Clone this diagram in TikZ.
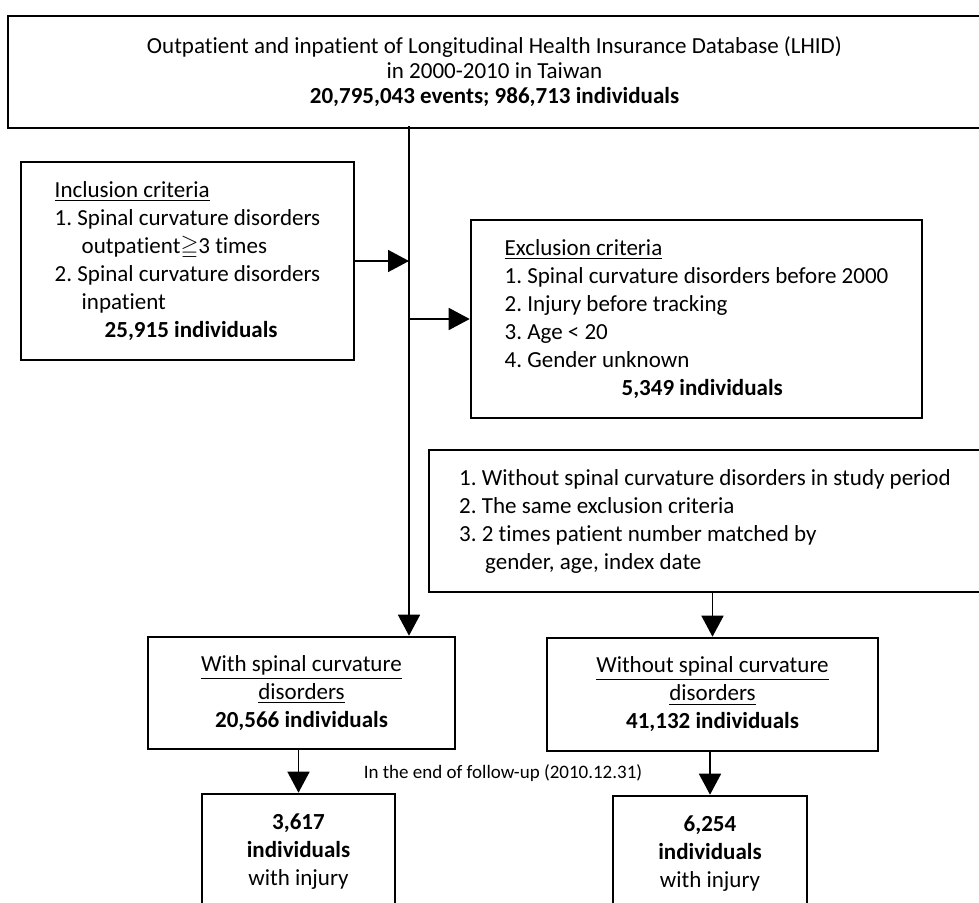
\documentclass[tikz,border=0pt]{standalone}
\usepackage{amssymb}
\usepackage{fontspec}
\setmainfont{Carlito}[Ligatures={TeX,NoCommon}]
\usepackage{tikz}
\usetikzlibrary{
  arrows.meta,
  calc
}
\tikzset{
  box/.style={
    draw,
    line width=2.6pt,
    align=center,
    font=\fontsize{23}{28}\selectfont\frenchspacing},
  listbox/.style={
    box,
    align=left},
  flow/.style={
    line width=1.6pt,
    -{Triangle[length=21pt,width=22pt]}}
  }

\begin{document}
\begin{tikzpicture}[x=1pt,y=-1pt]
    \useasboundingbox (0,0) rectangle (979,902);
    \node[box, minimum width=973pt, minimum height=112pt,
      font=\fontsize{23}{25}\selectfont] (lhid) at (494.5,72)
      {Outpatient and inpatient of Longitudinal Health Insurance Database (LHID)\\
       in 2000-2010 in Taiwan\\
       \textbf{20,795,043 events; 986,713 individuals}};
    \coordinate (trunk) at (409,126);
    % criteria
    \node[listbox, minimum width=333pt, minimum height=198pt] (incl) at (187.5,261)
      {\underline{Inclusion criteria}\\
       1. Spinal curvature disorders\\
       \hspace*{27pt}outpatient$\geqq$3 times\\
       2. Spinal curvature disorders\\
       \hspace*{27pt}inpatient\\
       \hspace*{50pt}\textbf{25,915 individuals}};
    \node[listbox, minimum width=451pt, minimum height=198pt] (excl) at (696.5,319)
      {\underline{Exclusion criteria}\\
       1. Spinal curvature disorders before 2000\\
       2. Injury before tracking\\
       3. Age < 20\\
       4. Gender unknown\\
       \hspace*{117pt}\textbf{5,349 individuals}};
    \node[listbox, minimum width=552pt, minimum height=142pt] (ctrl) at (705,521)
      {1. Without spinal curvature disorders in study period\\
       2. The same exclusion criteria\\
       3. 2 times patient number matched by\\
       \hspace*{26pt}gender, age, index date};
    % cohorts
    \node[box, minimum width=307pt, minimum height=112pt] (with) at (301.5,693)
      {\underline{With spinal curvature}\\
       \underline{disorders}\\
       \textbf{20,566 individuals}};
    \node[box, minimum width=331pt, minimum height=113pt] (without) at (712.5,694.5)
      {\underline{Without spinal curvature}\\
       \underline{disorders}\\
       \textbf{41,132 individuals}};
    \node[font=\fontsize{19}{23}\selectfont] (followup) at (503,773)
      {In the end of follow-up (2010.12.31)};
    % outcomes
    \node[box, minimum width=193pt, minimum height=116pt] (injA) at (298.5,852)
      {\textbf{3,617}\\ \textbf{individuals}\\ with injury};
    \node[box, minimum width=194pt, minimum height=116pt] (injB) at (710,854)
      {\textbf{6,254}\\ \textbf{individuals}\\ with injury};
    \path
    (trunk) edge[flow] (trunk |- with.north)
    (incl.east) edge[flow] (incl.east -| trunk)
    (excl.west -| trunk) edge[flow] (excl.west)
    (ctrl.south -| without.north) edge[flow] (without.north)
    (injA.north |- with.south) edge[flow] (injA.north)
    (injB.north |- without.south) edge[flow] (injB.north);
\end{tikzpicture}
\end{document}
